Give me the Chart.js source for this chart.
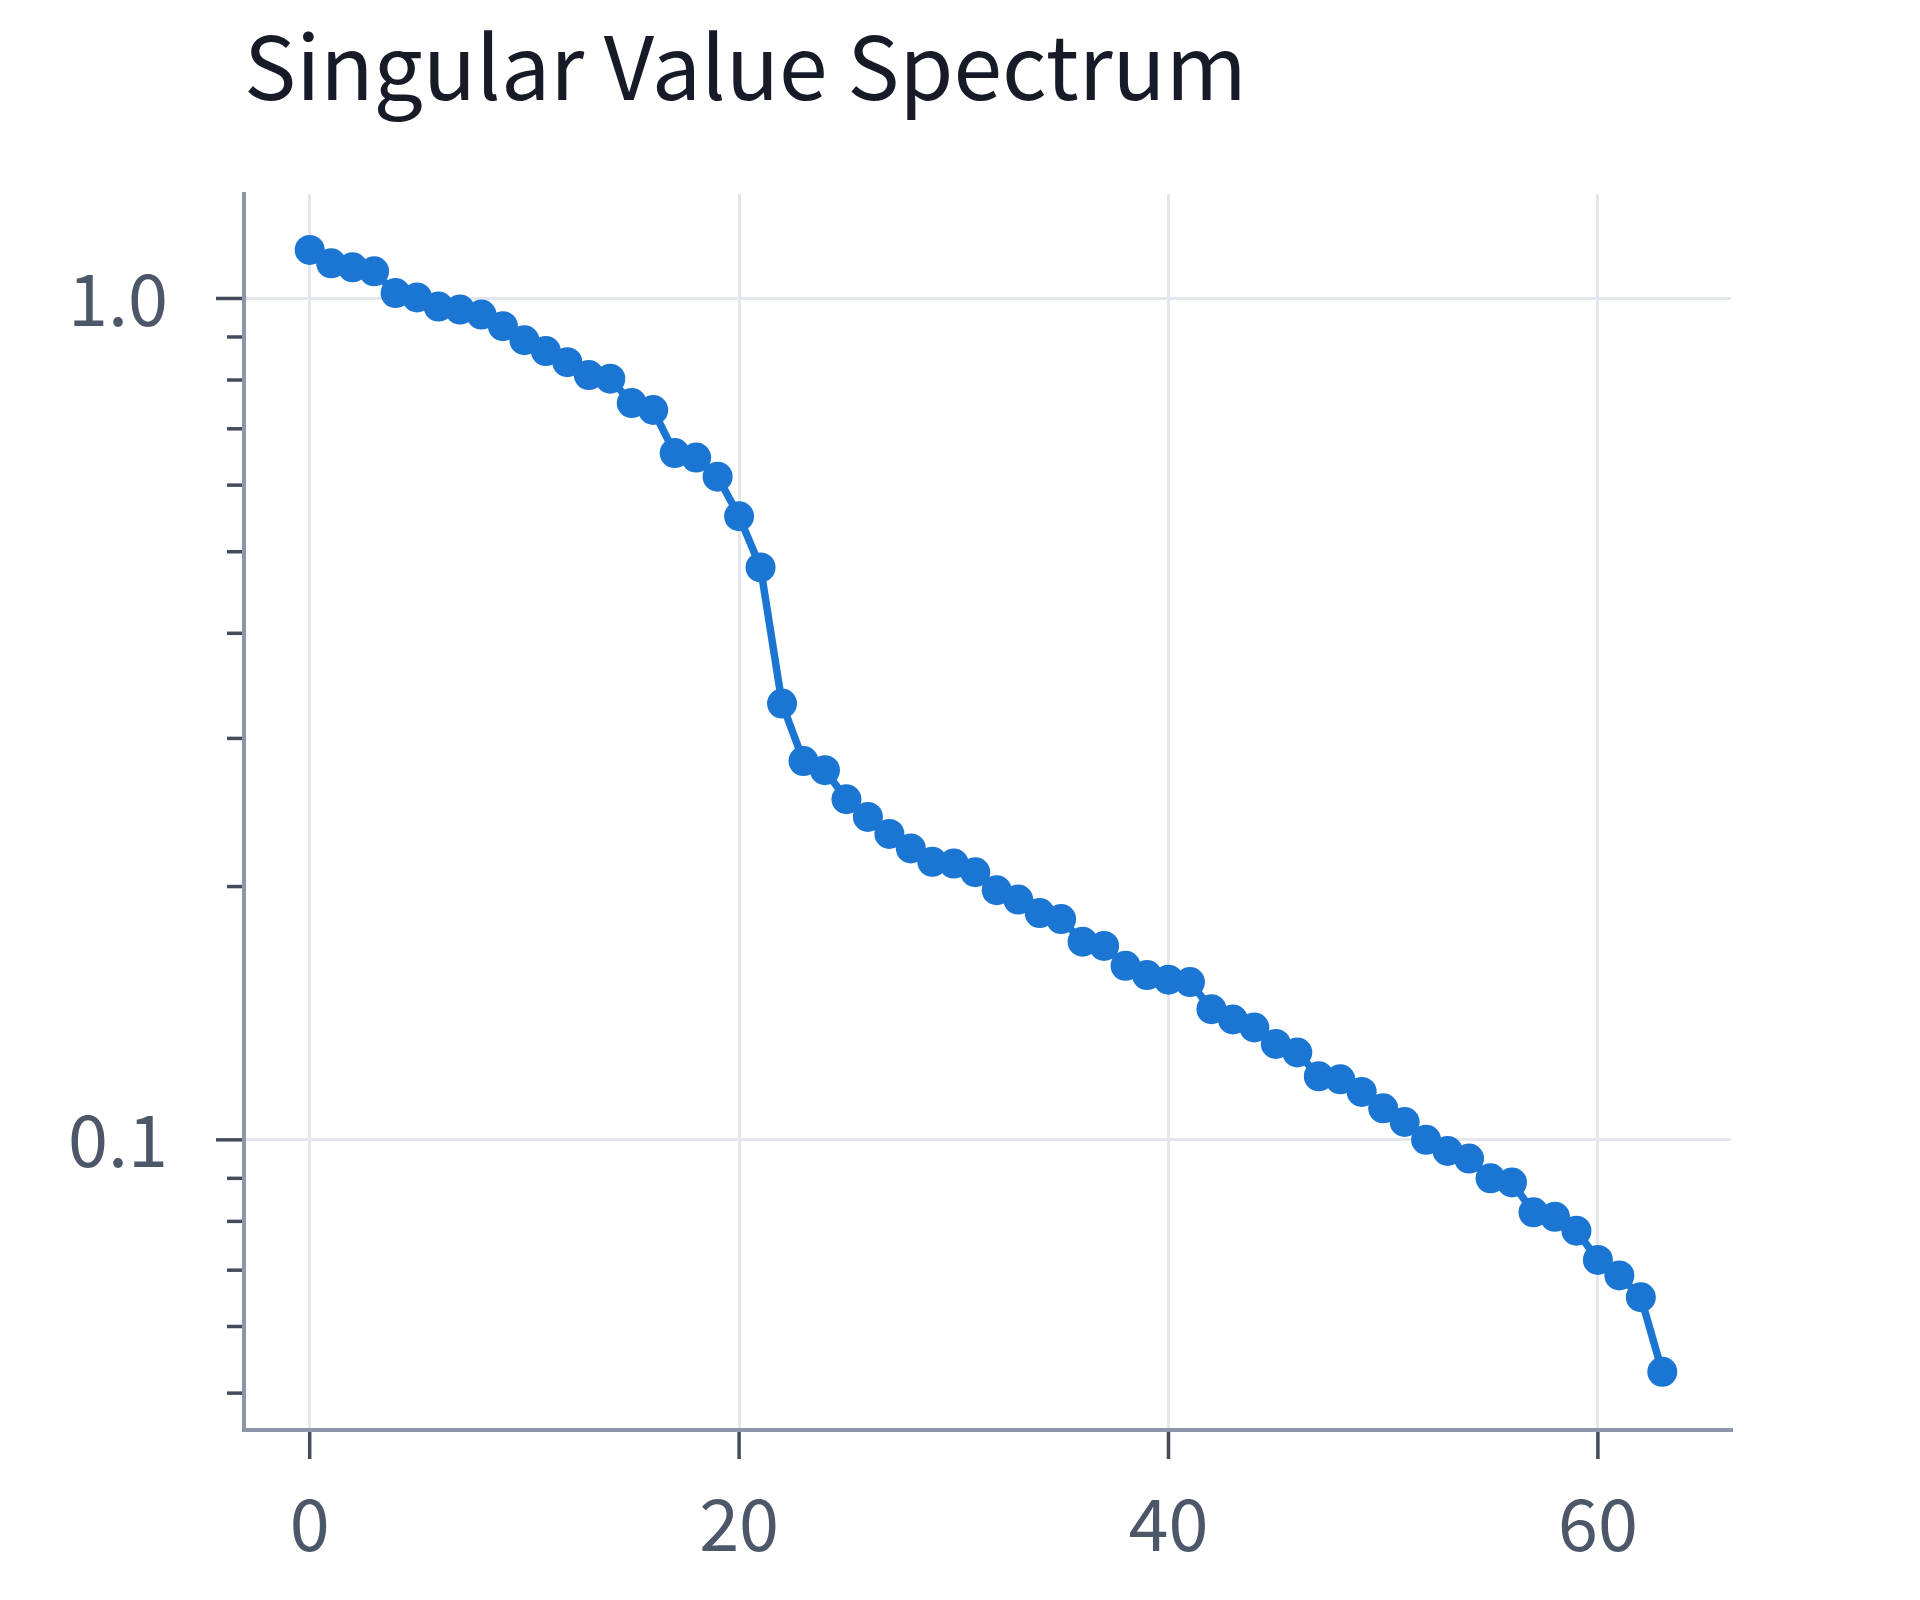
<!DOCTYPE html>
<html>
<head>
<meta charset="utf-8">
<script src="https://cdn.jsdelivr.net/npm/chart.js@4.4.1/dist/chart.umd.min.js"></script>
<style>
  html, body { margin: 0; padding: 0; background: #ffffff; }
  canvas { display: block; }
</style>
</head>
<body>
<canvas id="espectro" width="1920" height="1600"></canvas>
<script>
const fuente = '"Noto Sans CJK KR", "Noto Sans", sans-serif';
const colorTexto = '#4d576a';
const colorMarcas = '#444c5c';

// indices of the singular values
const indices = [];
for (let i = 0; i < 64; i++) indices.push(i);

// singular values (normalised, log scale)
const valores = [
  1.142, 1.101, 1.089, 1.077, 1.015, 1.003, 0.978, 0.970, 0.957, 0.927,
  0.892, 0.866, 0.840, 0.811, 0.803, 0.751, 0.737, 0.655, 0.647, 0.614,
  0.551, 0.479, 0.330, 0.282, 0.275, 0.254, 0.242, 0.231, 0.222, 0.214,
  0.213, 0.208, 0.198, 0.193, 0.186, 0.183, 0.172, 0.170, 0.161, 0.157,
  0.155, 0.154, 0.143, 0.139, 0.136, 0.130, 0.127, 0.119, 0.118, 0.114,
  0.109, 0.105, 0.100, 0.097, 0.095, 0.090, 0.089, 0.082, 0.081, 0.078,
  0.072, 0.069, 0.065, 0.053
];

// axis ticks
const ticksX = [0, 20, 40, 60];
const ticksY = [0.05, 0.06, 0.07, 0.08, 0.09, 0.1, 0.2, 0.3, 0.4, 0.5, 0.6, 0.7, 0.8, 0.9, 1];
const ticksYPrincipales = [0.1, 1];
const etiquetasY = { 0.1: '0.1', 1: '1.0' };

// tick marks outside the axes, long for the major ones and short for the rest
const marcasEjes = {
  id: 'marcasEjes',
  afterDraw(chart) {
    const { ctx, chartArea, scales } = chart;
    ctx.save();
    ctx.strokeStyle = colorMarcas;
    ctx.lineWidth = 3.5;
    scales.y.ticks.forEach(t => {
      const y = scales.y.getPixelForValue(t.value);
      const largo = ticksYPrincipales.includes(t.value) ? 26 : 15;
      ctx.beginPath();
      ctx.moveTo(chartArea.left - 2 - largo, y);
      ctx.lineTo(chartArea.left - 2, y);
      ctx.stroke();
    });
    scales.x.ticks.forEach(t => {
      const x = scales.x.getPixelForValue(t.value);
      ctx.beginPath();
      ctx.moveTo(x, chartArea.bottom + 2);
      ctx.lineTo(x, chartArea.bottom + 29);
      ctx.stroke();
    });
    ctx.restore();
  }
};

const lienzo = document.getElementById('espectro');
const graficoEspectro = new Chart(lienzo, {
  type: 'line',
  data: {
    datasets: [{
      data: indices.map((x, i) => ({ x: x, y: valores[i] })),
      borderColor: '#1b76d3',
      backgroundColor: '#1b76d3',
      borderWidth: 7.5,
      pointRadius: 15,
      pointBorderWidth: 0,
      pointHoverRadius: 15,
      tension: 0,
      fill: false
    }]
  },
  options: {
    responsive: false,
    animation: false,
    devicePixelRatio: 1,
    layout: { padding: { left: 0, right: 189, top: 0, bottom: 0 } },
    scales: {
      x: {
        type: 'linear',
        min: -3.06,
        max: 66.2,
        afterBuildTicks: s => { s.ticks = ticksX.map(v => ({ value: v })); },
        afterFit: s => { s.height = 170; },
        grid: { color: '#e3e7ed', lineWidth: 3, drawTicks: false },
        border: { color: '#8c96ab', width: 4 },
        ticks: {
          color: colorTexto,
          padding: 50,
          autoSkip: false,
          font: { family: fuente, size: 72 },
          callback: v => String(v)
        }
      },
      y: {
        type: 'logarithmic',
        min: 0.0452,
        max: 1.331,
        afterBuildTicks: s => { s.ticks = ticksY.map(v => ({ value: v })); },
        afterFit: s => { s.width = 244; },
        grid: {
          color: c => (c.tick && ticksYPrincipales.includes(c.tick.value)) ? '#e3e7ed' : 'rgba(0,0,0,0)',
          lineWidth: 3,
          drawTicks: false
        },
        border: { color: '#8c96ab', width: 4 },
        ticks: {
          color: colorTexto,
          padding: 76,
          autoSkip: false,
          font: { family: fuente, size: 72 },
          callback: v => etiquetasY[v] || ''
        }
      }
    },
    plugins: {
      legend: { display: false },
      tooltip: { enabled: false },
      title: {
        display: true,
        text: 'Singular Value Spectrum',
        align: 'start',
        fullSize: false,
        color: '#171b28',
        font: { family: fuente, size: 87.5, weight: 'normal' },
        padding: { top: 14, bottom: 75 }
      }
    }
  },
  plugins: [marcasEjes]
});
</script>
</body>
</html>
